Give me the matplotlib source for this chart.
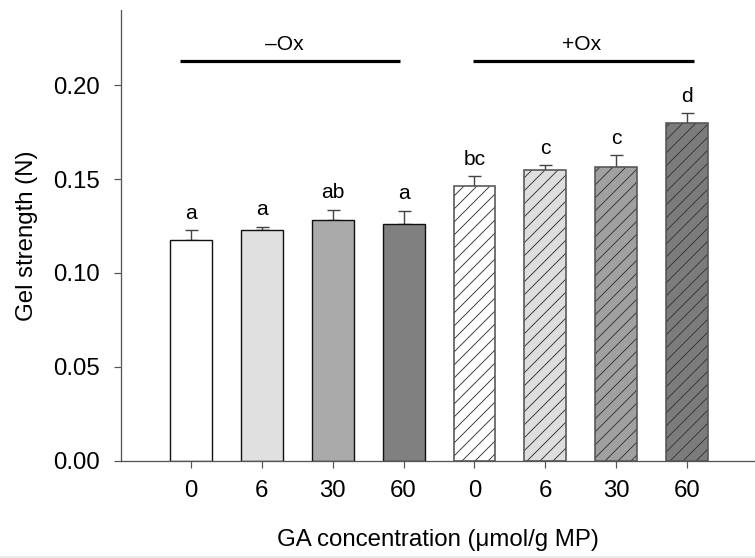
import numpy as np
import matplotlib
matplotlib.use('Agg')
import matplotlib.pyplot as plt
from matplotlib.lines import Line2D

# data
ga_labels = ['0', '6', '30', '60', '0', '6', '30', '60']
gel_strength = [0.1177, 0.1227, 0.1282, 0.1262, 0.1466, 0.1551, 0.1562, 0.1801]
gel_err = [0.0050, 0.0019, 0.0055, 0.0069, 0.0050, 0.0022, 0.0066, 0.0050]
letters = ['a', 'a', 'ab', 'a', 'bc', 'c', 'c', 'd']
groups = ['\u2013Ox', '+Ox']
group_members = [[0, 1, 2, 3], [4, 5, 6, 7]]

fills = ['#ffffff', '#e0e0e0', '#aaaaaa', '#808080',
         '#ffffff', '#dedede', '#a0a0a0', '#7c7c7c']
hatched = [False, False, False, False, True, True, True, True]

DPI = 78
px = lambda v: v * 72.0 / DPI  # pixels -> points

plt.rcParams['font.family'] = ['Liberation Sans', 'DejaVu Sans']
plt.rcParams['hatch.linewidth'] = px(0.9)

fig = plt.figure(figsize=(755 / DPI, 558 / DPI), dpi=DPI)
ax = fig.add_axes([121 / 755, (558 - 460.7) / 558, 1 - 121 / 755, (460.7 - 10.2) / 558])

x = np.arange(len(gel_strength))
width = 0.59

# error bars (upper only)
ax.errorbar(x, gel_strength, yerr=[np.zeros(len(gel_err)), gel_err], fmt='none',
            ecolor='#444444', elinewidth=px(1.4), capsize=px(6.5), capthick=px(1.4), zorder=1)

for i in range(len(x)):
    if hatched[i]:
        ax.bar(x[i], gel_strength[i], width, color=fills[i], hatch='//',
               edgecolor='#333333', linewidth=0, zorder=2)
        ax.bar(x[i], gel_strength[i], width, fill=False, edgecolor='#555555',
               linewidth=px(1.6), zorder=3)
    else:
        ax.bar(x[i], gel_strength[i], width, color=fills[i], edgecolor='#111111',
               linewidth=px(1.4), zorder=2)

# significance letters
for i in range(len(x)):
    ax.annotate(letters[i], (x[i], gel_strength[i] + gel_err[i]), xytext=(0, px(7.5)),
                textcoords='offset points', ha='center', va='bottom', fontsize=px(21))

# group bars
spans = [(-0.155, 2.95), (3.98, 7.10)]
label_x = [1.31, 5.51]
for name, (x0, x1), lx in zip(groups, spans, label_x):
    ax.plot([x0, x1], [0.2129, 0.2129], color='black', lw=px(3.2), solid_capstyle='butt',
            clip_on=False)
    ax.text(lx, 0.2188, name, ha='center', va='baseline', fontsize=px(21))

ax.set_xlim(-0.988, 7.959)
ax.set_ylim(0, 0.24)
ax.set_yticks([0, 0.05, 0.10, 0.15, 0.20])
ax.set_yticklabels(['0.00', '0.05', '0.10', '0.15', '0.20'])
ax.set_xticks(x)
ax.set_xticklabels(ga_labels)

for s in ['top', 'right']:
    ax.spines[s].set_visible(False)
for s in ['left', 'bottom']:
    ax.spines[s].set_color('#555555')
    ax.spines[s].set_linewidth(px(1.3))

ax.tick_params(axis='y', direction='out', length=px(7), width=px(1.2), color='#555555',
               pad=px(14), labelsize=px(24))
ax.tick_params(axis='x', direction='out', length=px(6.5), width=px(1.2), color='#555555',
               pad=px(13), labelsize=px(24))

ax.set_ylabel('Gel strength (N)', fontsize=px(24), labelpad=px(15))
ax.set_xlabel('GA concentration (\u03bcmol/g MP)', fontsize=px(24), labelpad=px(27))

# faint page border at the bottom
fig.add_artist(Line2D([0, 1], [1.5 / 558, 1.5 / 558], transform=fig.transFigure,
                      color='#e6e6e6', lw=px(1.5)))

fig.savefig('out.png', dpi=DPI)
